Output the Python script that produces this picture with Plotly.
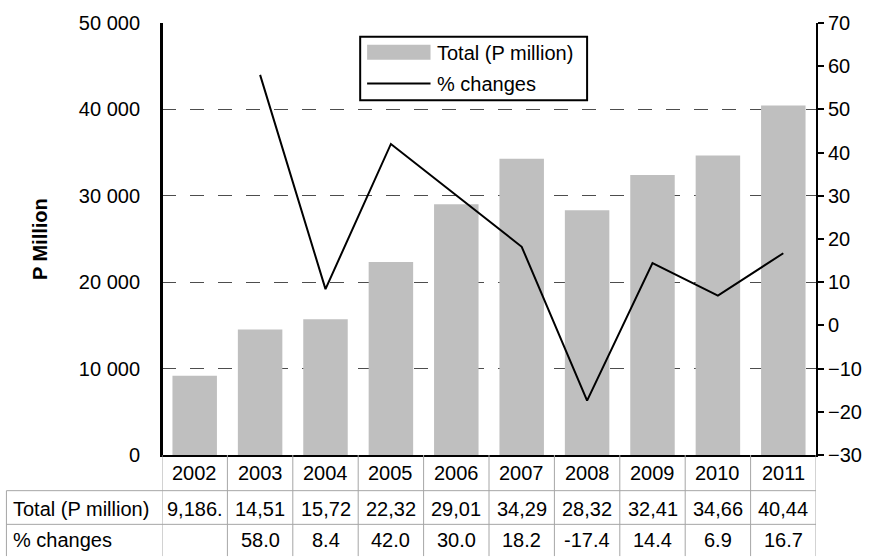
import plotly.graph_objects as go

# Annual totals (P million) and year-on-year % changes
years = ["2002", "2003", "2004", "2005", "2006", "2007", "2008", "2009", "2010", "2011"]
total = [9186.4, 14513.0, 15724.0, 22324.0, 29013.0, 34294.0, 28324.0, 32414.0, 34664.0, 40444.0]
pct_change = [None, 58.0, 8.4, 42.0, 30.0, 18.2, -17.4, 14.4, 6.9, 16.7]

left_ticks = [0, 10000, 20000, 30000, 40000, 50000]
left_ticktext = ["0", "10 000", "20 000", "30 000", "40 000", "50 000"]

FONT = "Liberation Sans, Arial, sans-serif"
FS = 20
BAR_COLOR = "#bfbfbf"
W, H = 874, 557
ML, MR, MT, MB = 162, 52, 19, 102
PW, PH = W - ML - MR, H - MT - MB


def px_to_paper_x(px):
    return (px - ML) / PW


def px_to_paper_y(py):
    return (H - MB - py) / PH


def clip_cell(text, limit=5.0):
    # Cells show only what fits in the column width
    out, w = "", 0.0
    for ch in text:
        cw = 0.5 if ch in ",." else 1.0
        if w + cw > limit:
            break
        out += ch
        w += cw
    return out


def text_ann(text, x, y, xref="x", xanchor="center", bold=False, angle=0):
    return dict(x=x, y=y, xref=xref, yref="paper", text=f"<b>{text}</b>" if bold else text,
                xanchor=xanchor, yanchor="middle", showarrow=False, textangle=angle,
                font=dict(size=FS, color="black", family=FONT))


fig = go.Figure()
fig.add_trace(go.Bar(
    x=list(range(len(years))), y=total, name="Total (P million)",
    marker=dict(color=BAR_COLOR, line=dict(width=0)), yaxis="y", showlegend=False,
))
fig.add_trace(go.Scatter(
    x=list(range(len(years))), y=pct_change, name="% changes", mode="lines",
    line=dict(color="black", width=2), yaxis="y2", connectgaps=False, showlegend=False,
))

shapes = []
annotations = []
line_col = "#a6a6a6"
y_row1 = px_to_paper_y(491)
y_row2 = px_to_paper_y(525)
y_bot = px_to_paper_y(557)
x_left = px_to_paper_x(5)

# Table grid
for i in range(len(years) + 1):
    xv = i - 0.5
    shapes.append(dict(type="line", xref="x", yref="paper", x0=xv, x1=xv,
                       y0=0, y1=y_bot, line=dict(color=line_col, width=1)))
shapes.append(dict(type="line", xref="paper", yref="paper", x0=x_left, x1=x_left,
                   y0=y_row1, y1=y_bot, line=dict(color=line_col, width=1)))
for yv in (y_row1, y_row2):
    shapes.append(dict(type="line", xref="paper", yref="paper", x0=x_left, x1=1,
                       y0=yv, y1=yv, line=dict(color=line_col, width=1)))

# Left axis line
shapes.append(dict(type="line", xref="paper", yref="paper", x0=0, x1=0, y0=0, y1=1,
                   line=dict(color="black", width=2)))

# Table text
row_y = [px_to_paper_y(473), px_to_paper_y(509), px_to_paper_y(541)]
for i, yr in enumerate(years):
    annotations.append(text_ann(yr, i, row_y[0]))
    annotations.append(text_ann(clip_cell(f"{total[i]:,.1f}"), i, row_y[1]))
    if pct_change[i] is not None:
        annotations.append(text_ann(f"{pct_change[i]:.1f}", i, row_y[2]))
annotations.append(text_ann("Total (P million)", px_to_paper_x(10), row_y[1],
                            xref="paper", xanchor="left"))
annotations.append(text_ann("% changes", px_to_paper_x(10), row_y[2],
                            xref="paper", xanchor="left"))

# Left axis title
annotations.append(text_ann("P Million", px_to_paper_x(39), px_to_paper_y(237),
                            xref="paper", bold=True, angle=-90))

# Legend box
shapes.append(dict(type="rect", xref="paper", yref="paper",
                   x0=px_to_paper_x(362), x1=px_to_paper_x(591),
                   y0=px_to_paper_y(33), y1=px_to_paper_y(97),
                   fillcolor="white", line=dict(color="black", width=2), layer="above"))
shapes.append(dict(type="rect", xref="paper", yref="paper",
                   x0=px_to_paper_x(369), x1=px_to_paper_x(433),
                   y0=px_to_paper_y(41), y1=px_to_paper_y(56),
                   fillcolor=BAR_COLOR, line=dict(width=0), layer="above"))
shapes.append(dict(type="line", xref="paper", yref="paper",
                   x0=px_to_paper_x(369), x1=px_to_paper_x(433),
                   y0=px_to_paper_y(80), y1=px_to_paper_y(80),
                   line=dict(color="black", width=2), layer="above"))
annotations.append(text_ann(fig.data[0].name, px_to_paper_x(437), px_to_paper_y(49),
                            xref="paper", xanchor="left"))
annotations.append(text_ann(fig.data[1].name, px_to_paper_x(437), px_to_paper_y(81),
                            xref="paper", xanchor="left"))

fig.update_layout(
    width=W, height=H,
    margin=dict(l=ML, r=MR, t=MT, b=MB, pad=0),
    paper_bgcolor="white", plot_bgcolor="white",
    font=dict(family=FONT, size=FS, color="black"),
    bargap=0.32,
    xaxis=dict(range=[-0.5, len(years) - 0.5], showticklabels=False, ticks="",
               showgrid=False, zeroline=False, showline=True, linecolor="black", linewidth=2),
    yaxis=dict(range=[0, 50000], tickvals=left_ticks, ticktext=left_ticktext,
               showline=True, linecolor="black", linewidth=2, ticks="",
               showgrid=True, gridcolor="#4d4d4d", gridwidth=1, griddash="14px,14px",
               zeroline=False, ticklabelstandoff=16, tickfont=dict(size=FS)),
    yaxis2=dict(range=[-30, 70], dtick=10, overlaying="y", side="right",
                showline=True, linecolor="black", linewidth=2,
                ticks="outside", ticklen=6, tickcolor="black", tickwidth=2,
                showgrid=False, zeroline=False, tickfont=dict(size=FS)),
    showlegend=False,
    shapes=shapes,
    annotations=annotations,
)

fig.write_html("out.html")
